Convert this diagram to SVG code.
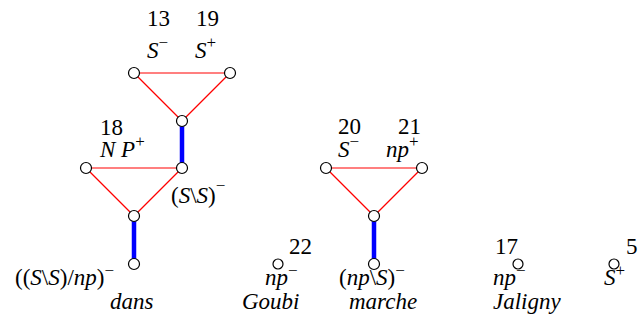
<svg xmlns="http://www.w3.org/2000/svg" width="639" height="324" viewBox="0 0 639 324">
<rect width="639" height="324" fill="#ffffff"/>
<g id="connectors" fill="none">
<g stroke="#ff0000" stroke-width="1.2">
<line x1="134" y1="73" x2="230" y2="73"/>
<line x1="134" y1="73" x2="182" y2="121"/>
<line x1="230" y1="73" x2="182" y2="121"/>
<line x1="86" y1="168" x2="182" y2="168"/>
<line x1="86" y1="168" x2="134" y2="216"/>
<line x1="182" y1="168" x2="134" y2="216"/>
<line x1="326" y1="168" x2="422" y2="168"/>
<line x1="326" y1="168" x2="374" y2="216"/>
<line x1="422" y1="168" x2="374" y2="216"/>
</g>
<g stroke="#0000ff" stroke-width="4.5">
<line x1="182" y1="121" x2="182" y2="168"/>
<line x1="134" y1="216" x2="134" y2="264"/>
<line x1="374" y1="216" x2="374" y2="264"/>
</g>
</g>
<g id="n13"><circle fill="#fff" stroke="#000" stroke-width="1.2" cx="134" cy="73" r="5.5"/><text x="147" y="26" font-family="Times New Roman" font-size="23">13</text><text x="147" y="58" font-family="Times New Roman" font-size="23" font-style="italic">S<tspan font-size="17" font-style="normal" dy="-10">−</tspan></text></g>
<g id="n19"><circle fill="#fff" stroke="#000" stroke-width="1.2" cx="230" cy="73" r="5.5"/><text x="196" y="26" font-family="Times New Roman" font-size="23">19</text><text x="195" y="58" font-family="Times New Roman" font-size="23" font-style="italic">S<tspan font-size="17" font-style="normal" dy="-10">+</tspan></text></g>
<g id="nSSa"><circle fill="#fff" stroke="#000" stroke-width="1.2" cx="182" cy="121" r="5.5"/></g>
<g id="n18"><circle fill="#fff" stroke="#000" stroke-width="1.2" cx="86" cy="168" r="5.5"/><text x="100" y="135" font-family="Times New Roman" font-size="23">18</text><text x="100" y="157" font-family="Times New Roman" font-size="23" font-style="italic">N P<tspan font-size="17" font-style="normal" dy="-10">+</tspan></text></g>
<g id="nSS"><circle fill="#fff" stroke="#000" stroke-width="1.2" cx="182" cy="168" r="5.5"/><text x="171" y="203" font-family="Times New Roman" font-size="23">(<tspan font-style="italic">S</tspan>\<tspan font-style="italic">S</tspan>)<tspan font-size="17" dy="-12">−</tspan></text></g>
<g id="ndansa"><circle fill="#fff" stroke="#000" stroke-width="1.2" cx="134" cy="216" r="5.5"/></g>
<g id="ndans"><circle fill="#fff" stroke="#000" stroke-width="1.2" cx="134" cy="264" r="5.5"/><text x="15" y="285" font-family="Times New Roman" font-size="23">((<tspan font-style="italic">S</tspan>\<tspan font-style="italic">S</tspan>)/<tspan font-style="italic">np</tspan>)<tspan font-size="17" dy="-9">−</tspan></text><text x="110" y="309" font-family="Times New Roman" font-size="23" font-style="italic">dans</text></g>
<g id="n22"><circle fill="#fff" stroke="#000" stroke-width="1.2" cx="278" cy="264" r="5"/><text x="289" y="254" font-family="Times New Roman" font-size="23">22</text><text x="265" y="285" font-family="Times New Roman" font-size="23" font-style="italic">np<tspan font-size="17" font-style="normal" dy="-9">−</tspan></text><text x="242" y="309" font-family="Times New Roman" font-size="23" font-style="italic">Goubi</text></g>
<g id="n20"><circle fill="#fff" stroke="#000" stroke-width="1.2" cx="326" cy="168" r="5.5"/><text x="338" y="134" font-family="Times New Roman" font-size="23">20</text><text x="338" y="157" font-family="Times New Roman" font-size="23" font-style="italic">S<tspan font-size="17" font-style="normal" dy="-10">−</tspan></text></g>
<g id="n21"><circle fill="#fff" stroke="#000" stroke-width="1.2" cx="422" cy="168" r="5.5"/><text x="398" y="134" font-family="Times New Roman" font-size="23">21</text><text x="386" y="157" font-family="Times New Roman" font-size="23" font-style="italic">np<tspan font-size="17" font-style="normal" dy="-10">+</tspan></text></g>
<g id="nmarchea"><circle fill="#fff" stroke="#000" stroke-width="1.2" cx="374" cy="216" r="5.5"/></g>
<g id="nmarche"><circle fill="#fff" stroke="#000" stroke-width="1.2" cx="374" cy="264" r="5.5"/><text x="339" y="285" font-family="Times New Roman" font-size="23">(<tspan font-style="italic">np</tspan>\<tspan font-style="italic">S</tspan>)<tspan font-size="17" dy="-9">−</tspan></text><text x="349" y="309" font-family="Times New Roman" font-size="23" font-style="italic">marche</text></g>
<g id="n17"><circle fill="#fff" stroke="#000" stroke-width="1.2" cx="518" cy="264" r="5"/><text x="495" y="254" font-family="Times New Roman" font-size="23">17</text><text x="493" y="285" font-family="Times New Roman" font-size="23" font-style="italic">np<tspan font-size="17" font-style="normal" dy="-9">−</tspan></text><text x="493" y="309" font-family="Times New Roman" font-size="23" font-style="italic">Jaligny</text></g>
<g id="n5"><circle fill="#fff" stroke="#000" stroke-width="1.2" cx="614" cy="264" r="5"/><text x="626" y="254" font-family="Times New Roman" font-size="23">5</text><text x="604" y="285" font-family="Times New Roman" font-size="23" font-style="italic">S<tspan font-size="17" font-style="normal" dy="-9">+</tspan></text></g>
</svg>
